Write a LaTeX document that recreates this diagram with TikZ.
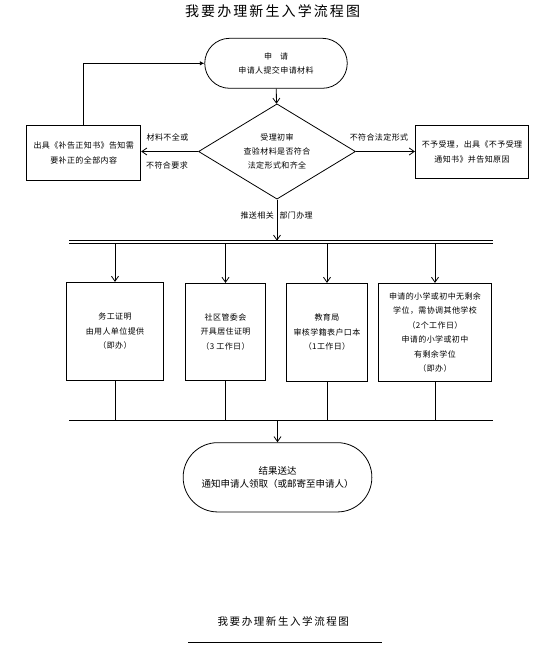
\documentclass[tikz,border=0pt]{standalone}
\usepackage{fontspec}
\setmainfont{Noto Sans CJK SC}
\usetikzlibrary{shapes.geometric,arrows.meta}
\tikzset{
  base/.style={draw=black,line width=0.8pt,align=center,inner sep=0pt,
    font=\fontsize{8}{14.5}\selectfont\addfontfeature{LetterSpace=5}},
  stad/.style={base,rectangle,rounded corners=24.9pt},
  decbox/.style={base,diamond,aspect=1.65,minimum width=157pt,minimum height=95.3pt,
    font=\fontsize{8}{14}\selectfont\addfontfeature{LetterSpace=5}},
  pbox/.style={base,rectangle},
  lab/.style={inner sep=0pt,font=\fontsize{8}{14.5}\selectfont\addfontfeature{LetterSpace=5}},
  line/.style={draw=black,line width=0.8pt},
  arr/.style={line,-{Straight Barb[length=5pt,width=7pt]}},
  tri/.style={line,-{Latex[length=4.5pt,width=4.5pt]}}
}
\begin{document}
\begin{tikzpicture}[x=1pt,y=-1pt]
\useasboundingbox (0,0) rectangle (549,645);
\node[inner sep=0pt,font=\fontsize{14}{16}\selectfont\addfontfeature{LetterSpace=15}] (title) at (272.6,11) {我要办理新生入学流程图};

\node[stad,minimum width=142.5pt,minimum height=50pt] (start) at (276,63.3) {申\hspace{8pt}请\\申请人提交申请材料};
\node[decbox] (dec) at (277,151.5) {受理初审\\查验材料是否符合\\法定形式和齐全};
\node[pbox,minimum width=114.2pt,minimum height=55pt] (left) at (83.7,152.8) {出具《补告正知书》告知需\\要补正的全部内容};
\node[pbox,minimum width=113.4pt,minimum height=53pt] (right) at (472,151.8) {不予受理，出具《不予受理\\通知书》并告知原因};

\node[lab] (l1) at (167.5,137.7) {材料不全或};
\node[lab] (l2) at (167,165.5) {不符合要求};
\node[lab] (l3) at (379,137.7) {不符合法定形式};

\draw[arr] (start) -- (dec);
\draw[arr] (dec.west) -- (dec.west -| left.east);
\draw[arr] (dec.east) -- (dec.east -| right.west);
\draw[tri] (left.north) |- (start.west);

\coordinate (busL1) at (69,240.7);
\coordinate (busR1) at (493,240.7);
\coordinate (busL2) at (69,243.3);
\coordinate (busR2) at (493,243.3);
\draw[line] (busL1) -- (busR1);
\draw[line] (busL2) -- (busR2);
\draw[arr] (dec.south) -- (dec.south |- busL1);
\node[lab,anchor=east] (p1) at (274,215.7) {推送相关};
\node[lab,anchor=west] (p2) at (279.3,215.7) {部门办理};

\node[pbox,minimum width=97.4pt,minimum height=98pt] (b1) at (115,331.3) {务工证明\\由用人单位提供\\（即办）};
\node[pbox,minimum width=80.4pt,minimum height=97pt] (b2) at (225.5,331.8) {社区管委会\\开具居住证明\\（3 工作日）};
\node[pbox,minimum width=81.4pt,minimum height=98pt] (b3) at (327,332.3) {教育局\\审核学籍表户口本\\（1工作日）};
\node[pbox,minimum width=113.4pt,minimum height=98pt] (b4) at (435,332.3) {申请的小学或初中无剩余\\学位，需协调其他学校\\（2个工作日）\\申请的小学或初中\\有剩余学位\\（即办）};

\foreach \b in {b1,b2,b3,b4}{
  \draw[arr] (\b.north |- busL2) -- (\b.north);
}

\coordinate (jL) at (69,420.3);
\coordinate (jR) at (493,420.3);
\draw[line] (jL) -- (jR);
\foreach \b in {b1,b2,b3,b4}{
  \draw[line] (\b.south) -- (\b.south |- jL);
}

\node[base,rectangle,rounded corners=34.5pt,minimum width=188.7pt,minimum height=69.3pt,
  font=\fontsize{9.5}{13.6}\selectfont] (end) at (277.5,477.3) {结果送达\\通知申请人领取（或邮寄至申请人）};
\draw[arr] (end.north |- jL) -- (end.north);

\node[inner sep=0pt,font=\fontsize{10.5}{12}\selectfont\addfontfeature{LetterSpace=15}] (cap) at (283.3,621.7) {我要办理新生入学流程图};
\coordinate (capL) at (188,642.3);
\coordinate (capR) at (381.7,642.3);
\draw[line] (capL) -- (capR);
\end{tikzpicture}
\end{document}
